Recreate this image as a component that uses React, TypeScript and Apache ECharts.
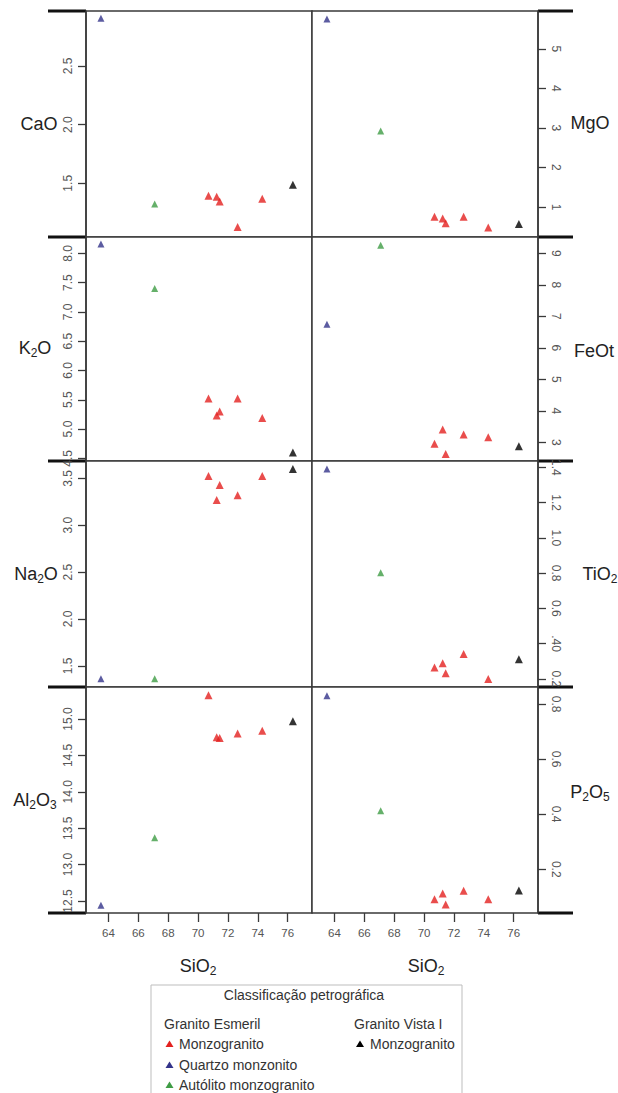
import React, { useEffect, useRef } from "react";
import * as echarts from "echarts";

// Samples: Quartzo monzonito, Autólito monzogranito, 5 x Monzogranito (Esmeril), Monzogranito (Vista I)
const sampleGroup = ["quartzo", "autolito", "esmeril", "esmeril", "esmeril", "esmeril", "esmeril", "vista"];
const siO2 = [63.5, 67.1, 70.7, 71.25, 71.45, 72.65, 74.3, 76.35];
const caO = [2.907, 1.324, 1.394, 1.386, 1.344, 1.128, 1.369, 1.488];
const mgO = [5.76, 2.92, 0.75, 0.71, 0.59, 0.75, 0.48, 0.57];
const k2O = [8.16, 7.4, 5.52, 5.23, 5.3, 5.52, 5.19, 4.6];
const feOt = [6.75, 9.26, 2.96, 3.41, 2.63, 3.25, 3.16, 2.88];
const na2O = [1.364, 1.364, 3.525, 3.27, 3.43, 3.32, 3.525, 3.6];
const tiO2 = [1.39, 0.802, 0.264, 0.289, 0.232, 0.341, 0.2, 0.312];
const al2O3 = [12.44, 13.37, 15.325, 14.75, 14.74, 14.8, 14.84, 14.97];
const p2O5 = [0.83, 0.412, 0.091, 0.112, 0.072, 0.122, 0.091, 0.123];

// tick values and labels
const siO2Ticks = [64, 66, 68, 70, 72, 74, 76];
const caOTicks = [1.5, 2.0, 2.5];
const caOLabels = ["1.5", "2.0", "2.5"];
const mgOTicks = [1, 2, 3, 4, 5];
const mgOLabels = ["1", "2", "3", "4", "5"];
const k2OTicks = [4.5, 5.0, 5.5, 6.0, 6.5, 7.0, 7.5, 8.0];
const k2OLabels = ["4.5", "5.0", "5.5", "6.0", "6.5", "7.0", "7.5", "8.0"];
const feOtTicks = [3, 4, 5, 6, 7, 8, 9];
const feOtLabels = ["3", "4", "5", "6", "7", "8", "9"];
const na2OTicks = [1.5, 2.0, 2.5, 3.0, 3.5];
const na2OLabels = ["1.5", "2.0", "2.5", "3.0", "3.5"];
const tiO2Ticks = [0.2, 0.4, 0.6, 0.8, 1.0, 1.2, 1.4];
const tiO2Labels = ["0.2", ".40", "0.6", "0.8", "1.0", "1.2", "1.4"];
const al2O3Ticks = [12.5, 13.0, 13.5, 14.0, 14.5, 15.0];
const al2O3Labels = ["12.5", "13.0", "13.5", "14.0", "14.5", "15.0"];
const p2O5Ticks = [0.2, 0.4, 0.6, 0.8];
const p2O5Labels = ["0.2", "0.4", "0.6", "0.8"];

const groups = [
  { key: "esmeril", name: "Monzogranito (Esmeril)", color: "#e3211f", size: 8 },
  { key: "quartzo", name: "Quartzo monzonito", color: "#33338a", size: 7 },
  { key: "autolito", name: "Autólito monzogranito", color: "#3f9c45", size: 7 },
  { key: "vista", name: "Monzogranito (Vista I)", color: "#000000", size: 8 },
];

const FONT = "'Liberation Sans', Arial, Helvetica, sans-serif";

const panels = [
  { values: caO, ticks: caOTicks, labels: caOLabels, min: 1.042, max: 2.969, col: 0, row: 0 },
  { values: mgO, ticks: mgOTicks, labels: mgOLabels, min: 0.24, max: 5.96, col: 1, row: 0 },
  { values: k2O, ticks: k2OTicks, labels: k2OLabels, min: 4.454, max: 8.28, col: 0, row: 1 },
  { values: feOt, ticks: feOtTicks, labels: feOtLabels, min: 2.41, max: 9.52, col: 1, row: 1 },
  { values: na2O, ticks: na2OTicks, labels: na2OLabels, min: 1.275, max: 3.685, col: 0, row: 2 },
  { values: tiO2, ticks: tiO2Ticks, labels: tiO2Labels, min: 0.154, max: 1.436, col: 1, row: 2 },
  { values: al2O3, ticks: al2O3Ticks, labels: al2O3Labels, min: 12.335, max: 15.44, col: 0, row: 3 },
  { values: p2O5, ticks: p2O5Ticks, labels: p2O5Labels, min: 0.041, max: 0.862, col: 1, row: 3 },
];

const colLeft = [86, 312];
const colWidth = 226;
const rowEdges = [11, 237, 461, 687, 913];

function nameText(x: number, y: number, parts: [string, boolean][]) {
  const text = parts.map(([s, sub]) => (sub ? `{s|${s}}` : `{n|${s}}`)).join("");
  return {
    type: "text",
    x,
    y,
    style: {
      text,
      align: "center",
      verticalAlign: "middle",
      rich: {
        n: { fontSize: 18, fontFamily: FONT, fill: "#222", lineHeight: 22 },
        s: { fontSize: 12, fontFamily: FONT, fill: "#222", padding: [10, 0, 0, 0] },
      },
    },
  };
}

export default function App() {
  const ref = useRef<HTMLDivElement>(null);
  useEffect(() => {
    if (!ref.current) return;
    const chart = echarts.init(ref.current, undefined, { renderer: "svg" });

    const grid: any[] = [];
    const xAxis: any[] = [];
    const yAxis: any[] = [];
    const series: any[] = [];

    panels.forEach((p, i) => {
      const top = rowEdges[p.row];
      const height = rowEdges[p.row + 1] - top;
      grid.push({
        left: colLeft[p.col],
        top,
        width: colWidth,
        height,
        show: true,
        borderColor: "#3a3a3a",
        borderWidth: 1.5,
        backgroundColor: "#fff",
        containLabel: false,
      });
      const bottomRow = p.row === 3;
      xAxis.push({
        type: "value",
        gridIndex: i,
        min: 62.5,
        max: 77.63,
        position: "bottom",
        splitLine: { show: false },
        axisLine: { show: false },
        axisTick: {
          show: bottomRow,
          inside: false,
          length: 9,
          customValues: siO2Ticks,
          lineStyle: { color: "#3a3a3a", width: 1.3 },
        },
        axisLabel: {
          show: bottomRow,
          customValues: siO2Ticks,
          margin: 14,
          fontSize: 11.5,
          fontFamily: FONT,
          color: "#555",
        },
      });
      const isLeft = p.col === 0;
      yAxis.push({
        type: "value",
        gridIndex: i,
        min: p.min,
        max: p.max,
        position: isLeft ? "left" : "right",
        splitLine: { show: false },
        axisLine: { show: true, lineStyle: { color: "#3a3a3a", width: 1.5 } },
        axisTick: {
          show: true,
          length: 8,
          customValues: p.ticks,
          lineStyle: { color: "#3a3a3a", width: 1.3 },
        },
        axisLabel: {
          show: true,
          customValues: p.ticks,
          rotate: isLeft ? 90 : -90,
          margin: 12,
          fontSize: 12,
          fontFamily: FONT,
          color: "#555",
          formatter: (v: number) => {
            const k = p.ticks.findIndex((t) => Math.abs(t - v) < 1e-6);
            return k >= 0 ? p.labels[k] : "";
          },
        },
      });
      groups.forEach((g) => {
        const data: number[][] = [];
        siO2.forEach((x, k) => {
          if (sampleGroup[k] === g.key) data.push([x, p.values[k]]);
        });
        series.push({
          type: "scatter",
          name: g.name,
          xAxisIndex: i,
          yAxisIndex: i,
          symbol: "triangle",
          symbolSize: g.size,
          itemStyle: { color: g.color },
          data,
          z: 3,
        });
      });
    });

    const graphic: any[] = [];
    // thick black stubs at panel boundaries
    rowEdges.forEach((y) => {
      graphic.push({ type: "line", shape: { x1: 48, y1: y, x2: 86, y2: y }, style: { stroke: "#111", lineWidth: 3 } });
      graphic.push({ type: "line", shape: { x1: 538, y1: y, x2: 573, y2: y }, style: { stroke: "#111", lineWidth: 3 } });
    });
    // axis names
    graphic.push(nameText(39, 124, [["CaO", false]]));
    graphic.push(nameText(35, 348, [["K", false], ["2", true], ["O", false]]));
    graphic.push(nameText(36, 574, [["Na", false], ["2", true], ["O", false]]));
    graphic.push(nameText(35, 800, [["Al", false], ["2", true], ["O", false], ["3", true]]));
    graphic.push(nameText(590, 123, [["MgO", false]]));
    graphic.push(nameText(594, 351, [["FeOt", false]]));
    graphic.push(nameText(600, 574, [["TiO", false], ["2", true]]));
    graphic.push(nameText(590, 792, [["P", false], ["2", true], ["O", false], ["5", true]]));
    graphic.push(nameText(198, 966, [["SiO", false], ["2", true]]));
    graphic.push(nameText(426, 966, [["SiO", false], ["2", true]]));

    // legend box
    graphic.push({
      type: "rect",
      shape: { x: 151, y: 985, width: 311, height: 130 },
      style: { fill: "#fff", stroke: "#bdbdbd", lineWidth: 1 },
    });
    const lt = (x: number, y: number, text: string, align = "left") => ({
      type: "text",
      x,
      y,
      style: { text, fontSize: 14, fontFamily: FONT, fill: "#333", align, verticalAlign: "middle" },
    });
    graphic.push(lt(304, 995, "Classificação petrográfica", "center"));
    graphic.push(lt(164, 1024, "Granito Esmeril"));
    graphic.push(lt(354, 1024, "Granito Vista I"));
    const tri = (cx: number, cy: number, color: string) => ({
      type: "polygon",
      shape: { points: [[cx, cy - 3.5], [cx + 4, cy + 3], [cx - 4, cy + 3]] },
      style: { fill: color },
    });
    graphic.push(tri(169.5, 1044, groups[0].color));
    graphic.push(lt(179, 1044, "Monzogranito"));
    graphic.push(tri(169.5, 1065, groups[1].color));
    graphic.push(lt(179, 1065, "Quartzo monzonito"));
    graphic.push(tri(169.5, 1085, groups[2].color));
    graphic.push(lt(179, 1085, "Autólito monzogranito"));
    graphic.push(tri(360, 1044, groups[3].color));
    graphic.push(lt(370, 1044, "Monzogranito"));

    chart.setOption({
      animation: false,
      backgroundColor: "#fff",
      grid,
      xAxis,
      yAxis,
      series,
      graphic,
    });
    return () => chart.dispose();
  }, []);
  return (
    <div
      ref={ref}
      style={{ position: "fixed", left: 0, top: 0, width: 618, height: 1093, background: "#fff" }}
    />
  );
}
